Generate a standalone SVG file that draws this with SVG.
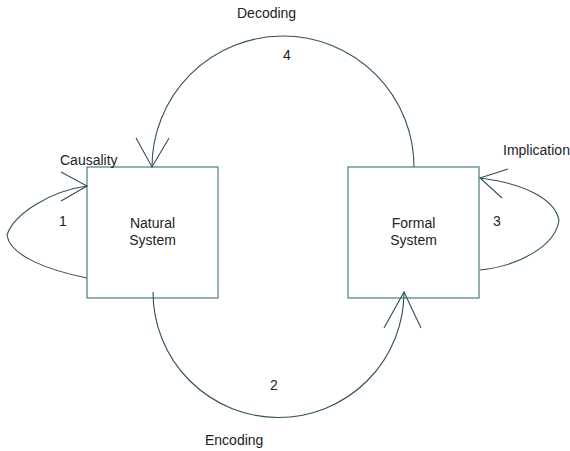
<svg xmlns="http://www.w3.org/2000/svg" width="570" height="451" viewBox="0 0 570 451">
<style>
.box{fill:#fff;stroke:#4b7c84;stroke-width:1.2}
.c{fill:none;stroke:#2e4f58;stroke-width:1.1}
text{font-family:"Liberation Sans",Arial,sans-serif;font-size:14px;fill:#222}
</style>
<rect width="570" height="451" fill="#fff"/>
<g id="natural-system">
<rect class="box" x="87" y="167" width="131" height="131"/>
<text x="152.5" y="228" text-anchor="middle">Natural</text>
<text x="152.5" y="245" text-anchor="middle">System</text>
</g>
<g id="formal-system">
<rect class="box" x="348" y="167" width="131" height="131"/>
<text x="413.5" y="228" text-anchor="middle">Formal</text>
<text x="413.5" y="245" text-anchor="middle">System</text>
</g>
<g id="connectors">
<path class="c" d="M87,278 C52,271 10,257 7,235 C14,214 50,191 87,186"/>
<path class="c" d="M61,172 L87,186 L61,201"/>
<path class="c" d="M414,167 A131,131 0 0 0 152,167"/>
<path class="c" d="M136,138 L152,167 L169,138"/>
<path class="c" d="M153,292 A125.5,125.5 0 0 0 404,292"/>
<path class="c" d="M384,328 L404,292 L421,328"/>
<path class="c" d="M480,270 C520,266 556,245 559,220 C554,197 520,183 480,178"/>
<path class="c" d="M508,169 L480,178 L502,198"/>
</g>
<g id="labels">
<text x="60" y="165">Causality</text>
<text x="59" y="226">1</text>
<text x="237" y="18">Decoding</text>
<text x="283" y="60">4</text>
<text x="270" y="390">2</text>
<text x="205" y="445">Encoding</text>
<text x="493" y="226">3</text>
<text x="503" y="155">Implication</text>
</g>
</svg>
